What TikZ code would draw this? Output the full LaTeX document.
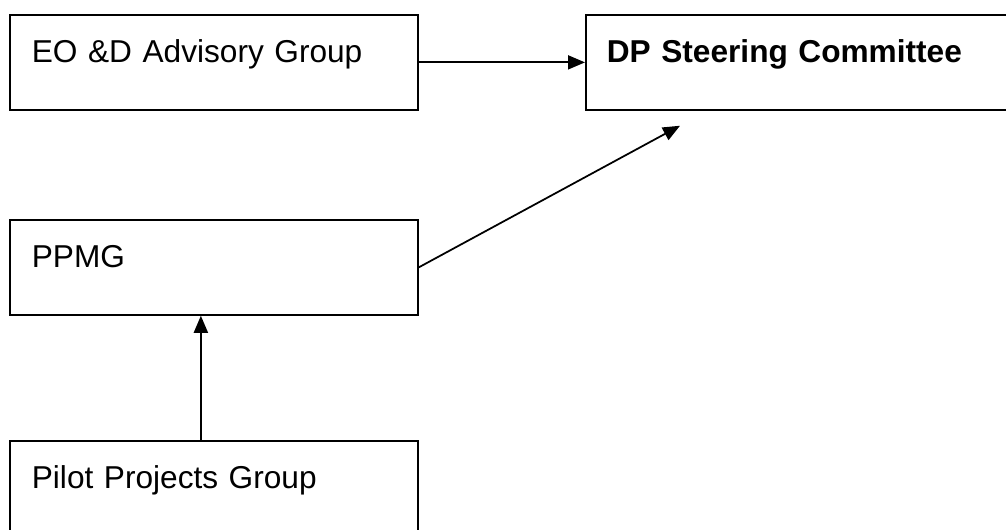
\documentclass[tikz,border=0pt]{standalone}
\usepackage{fontspec}
\setmainfont{Liberation Sans}
\usetikzlibrary{arrows.meta}

\begin{document}
\begin{tikzpicture}[
		groupbox/.style={draw, line width=1pt, rectangle, anchor=north west, align=left,
			inner ysep=0pt, text height=0.96cm, text depth=0.94cm,
			font=\fontsize{18}{22}\selectfont},
		link/.style={line width=1pt, -{Triangle[length=0.34cm, width=0.28cm]}}
	]
	\useasboundingbox (0,0) rectangle (20.12,10.6);
	
	% boxes
	\node[groupbox, inner xsep=0.44cm, text width=7.28cm] (eod) at (0.18,10.32) {EO \&D Advisory Group};
	\node[groupbox, inner xsep=0.42cm, text width=7.70cm] (steer) at (11.70,10.32) {\textbf{DP Steering Committee}};
	\node[groupbox, inner xsep=0.44cm, text width=7.28cm] (ppmg) at (0.18,6.22) {PPMG};
	\node[groupbox, inner xsep=0.44cm, text width=7.28cm] (pilot) at (0.18,1.80) {Pilot Projects Group};
	
	% arrows
	\draw[link] (eod.east) -- (steer.west);
	\draw[link] (ppmg.east) -- ([shift={(1.9cm,-0.3cm)}]steer.south west);
	\draw[link] ([xshift=-0.26cm]pilot.north) -- ([xshift=-0.26cm]ppmg.south);
\end{tikzpicture}
\end{document}
